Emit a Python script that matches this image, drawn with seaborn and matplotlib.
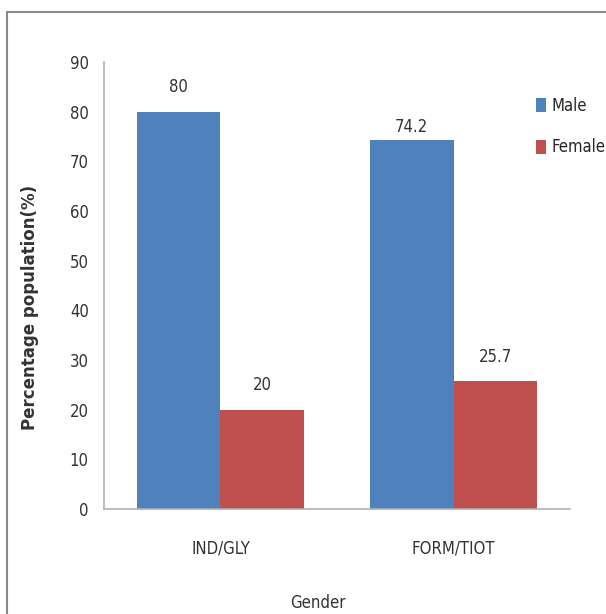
import numpy as np
import pandas as pd
import matplotlib
matplotlib.use("Agg")
import matplotlib.pyplot as plt
import seaborn as sns
from matplotlib.patches import Rectangle
from matplotlib import font_manager

# data
groups = ['IND/GLY', 'FORM/TIOT']
male = [80, 74.2]
female = [20, 25.7]
labels_male = ['80', '74.2']
labels_female = ['20', '25.7']

df = pd.DataFrame({
    'group': groups * 2,
    'sex': ['Male'] * 2 + ['Female'] * 2,
    'value': male + female,
})

sns.set_style("white")
names = {f.name for f in font_manager.fontManager.ttflist}
narrow = [n for n in ['Liberation Sans Narrow', 'DejaVu Sans Condensed'] if n in names]
plt.rcParams['font.family'] = narrow + ['DejaVu Sans']
if not narrow:
    plt.rcParams['font.stretch'] = 'condensed'

fig = plt.figure(figsize=(6.06, 6.14), dpi=100)
ax = fig.add_axes([0.1716, 0.171, 0.769, 0.728])

sns.barplot(data=df, x='group', y='value', hue='sex',
            palette={'Male': '#4F81BD', 'Female': '#C0504D'},
            width=0.72, saturation=1, linewidth=0, ax=ax, legend=True)

# value labels (the 74.2 label sits closer to its bar in the original)
ax.bar_label(ax.containers[0], labels=[labels_male[0], ''], padding=11, fontsize=12, color='#333333')
ax.bar_label(ax.containers[0], labels=['', labels_male[1]], padding=3, fontsize=12, color='#333333')
ax.bar_label(ax.containers[1], labels=labels_female, padding=11, fontsize=12, color='#333333')

ax.set_ylim(0, 90)
ax.set_yticks(range(0, 91, 10))
ax.tick_params(axis='both', labelsize=12, colors='#333333', length=0, pad=11)
ax.tick_params(axis='x', pad=22)
for s in ['top', 'right']:
    ax.spines[s].set_visible(False)
for s in ['left', 'bottom']:
    ax.spines[s].set_color('#b0b0b0')
    ax.spines[s].set_linewidth(1.2)

ax.set_xlabel('')
ax.set_ylabel('')
fig.text(0.525, 0.004, 'Gender', ha='center', va='bottom', fontsize=12, color='#333333')
fig.text(0.05, 0.5, 'Percentage population(%)', rotation=90, ha='center', va='center',
         fontsize=12, fontweight='bold', family='DejaVu Sans', stretch='normal',
         color='#333333')

leg = ax.legend(loc='upper left', bbox_to_anchor=(0.895, 0.955), frameon=False,
                fontsize=12, handlelength=0.6, handleheight=0.9, handletextpad=0.3,
                labelspacing=1.4)

fig.patches.append(Rectangle((0.012, -0.01), 1.0, 0.99, transform=fig.transFigure,
                             fill=False, edgecolor='#8a8a8a', linewidth=1.5))

fig.savefig('out.png', dpi=100)
